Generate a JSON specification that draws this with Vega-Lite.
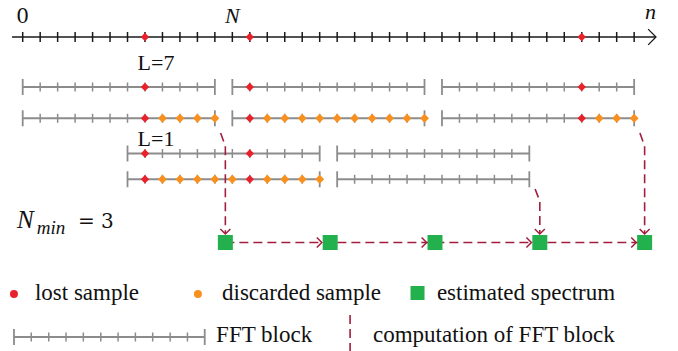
{
  "$schema": "https://vega.github.io/schema/vega-lite/v6.json",
  "width": 678,
  "height": 351,
  "autosize": {"type": "none"},
  "padding": 0,
  "background": "white",
  "config": {"view": {"stroke": null}},
  "datasets": {
    "axisLine": [{"n": -0.61, "n2": 36.25, "lane": 37}],
    "blocks": [
      {"n": 0, "n2": 11, "lane": 87}, {"n": 12, "n2": 23, "lane": 87}, {"n": 24, "n2": 35, "lane": 87},
      {"n": 0, "n2": 11, "lane": 118.3}, {"n": 12, "n2": 23, "lane": 118.3}, {"n": 24, "n2": 35, "lane": 118.3},
      {"n": 6, "n2": 17, "lane": 153.5}, {"n": 18, "n2": 29, "lane": 153.5},
      {"n": 6, "n2": 17, "lane": 179.3}, {"n": 18, "n2": 29, "lane": 179.3},
      {"n": -0.5, "n2": 10.42, "lane": 337}
    ],
    "ticksAxis": [{"lane": 37, "n": [0,1,2,3,4,5,6,7,8,9,10,11,12,13,14,15,16,17,18,19,20,21,22,23,24,25,26,27,28,29,30,31,32,33,34,35]}],
    "ticksEnd": [
      {"lane": 87, "n": [0,11,12,23,24,35]},
      {"lane": 118.3, "n": [0,11,12,23,24,35]},
      {"lane": 153.5, "n": [6,17,18,29]},
      {"lane": 179.3, "n": [6,17,18,29]},
      {"lane": 337, "n": [-0.5,10.42]}
    ],
    "ticksMinor": [
      {"lane": 87, "n": [1,2,3,4,5,6,7,8,9,10,13,14,15,16,17,18,19,20,21,22,25,26,27,28,29,30,31,32,33,34]},
      {"lane": 118.3, "n": [1,2,3,4,5,6,7,8,9,10,13,14,15,16,17,18,19,20,21,22,25,26,27,28,29,30,31,32,33,34]},
      {"lane": 153.5, "n": [7,8,9,10,11,12,13,14,15,16,19,20,21,22,23,24,25,26,27,28]},
      {"lane": 179.3, "n": [7,8,9,10,11,12,13,14,15,16,19,20,21,22,23,24,25,26,27,28]},
      {"lane": 337, "n": [0.49,1.49,2.48,3.47,4.47,5.46,6.45,7.44,8.44,9.43]}
    ],
    "lost": [
      {"lane": 37, "n": [7,13,32]},
      {"lane": 87, "n": [7,13,32]},
      {"lane": 118.3, "n": [7,13,32]},
      {"lane": 153.5, "n": [7,13]},
      {"lane": 179.3, "n": [7,13]}
    ],
    "discarded": [
      {"lane": 118.3, "n": [8,9,10,11,14,15,16,17,18,19,20,21,22,23,33,34,35]},
      {"lane": 179.3, "n": [8,9,10,11,12,14,15,16,17]}
    ],
    "spectra": [
      {"n": 11.6, "lane": 242.5}, {"n": 17.6, "lane": 242.5}, {"n": 23.6, "lane": 242.5},
      {"n": 29.6, "lane": 242.5}, {"n": 35.6, "lane": 242.5}
    ],
    "paths": [
      {"path": "h", "ord": 0, "n": 11.6, "lane": 242.5}, {"path": "h", "ord": 1, "n": 35.6, "lane": 242.5},
      {"path": "v1", "ord": 0, "n": 11.33, "lane": 133}, {"path": "v1", "ord": 1, "n": 11.6, "lane": 146}, {"path": "v1", "ord": 2, "n": 11.6, "lane": 233},
      {"path": "v2", "ord": 0, "n": 29.33, "lane": 189}, {"path": "v2", "ord": 1, "n": 29.6, "lane": 201}, {"path": "v2", "ord": 2, "n": 29.6, "lane": 233},
      {"path": "v3", "ord": 0, "n": 35.33, "lane": 133}, {"path": "v3", "ord": 1, "n": 35.6, "lane": 146}, {"path": "v3", "ord": 2, "n": 35.6, "lane": 233},
      {"path": "leg", "ord": 0, "n": 18.74, "lane": 315}, {"path": "leg", "ord": 1, "n": 18.74, "lane": 356}
    ],
    "arrowsRight": [{"n": 17.12, "lane": 242.5}, {"n": 23.12, "lane": 242.5}, {"n": 29.12, "lane": 242.5}, {"n": 35.12, "lane": 242.5}],
    "arrowsDown": [{"n": 11.6, "lane": 234}, {"n": 29.6, "lane": 234}, {"n": 35.6, "lane": 234}, {"n": 18.74, "lane": 357}],
    "axisArrow": [{"n": 36.25, "lane": 37}],
    "legendLost": [{"n": -0.5, "lane": 294}],
    "legendDiscarded": [{"n": 10.03, "lane": 294}],
    "legendSpectrum": [{"n": 22.6, "lane": 293}],
    "mathItalic": [{"label": "N", "n": 12, "lane": 22.7}, {"label": "n", "n": 35.94, "lane": 19}],
    "mathPlain": [{"label": "0", "n": 0, "lane": 22.7}, {"label": "=", "n": 3.65, "lane": 228}, {"label": "3", "n": 4.85, "lane": 228}],
    "labelsL": [{"label": "L=7", "n": 7.63, "lane": 70}, {"label": "L=1", "n": 7.63, "lane": 145.5}],
    "nminN": [{"label": "N", "n": -0.33, "lane": 228}],
    "nminSub": [{"label": "min", "n": 0.8, "lane": 234}],
    "legendText": [
      {"label": "lost sample", "n": 0.7, "lane": 300},
      {"label": "discarded sample", "n": 11.41, "lane": 300},
      {"label": "estimated spectrum", "n": 23.71, "lane": 300},
      {"label": "FFT block", "n": 11.07, "lane": 342},
      {"label": "computation of FFT block", "n": 20.05, "lane": 342}
    ]
  },
  "encoding": {
    "x": {"field": "n", "type": "quantitative", "scale": {"domain": [-1.2994, 37.51], "nice": false, "zero": false}, "axis": null},
    "y": {"field": "lane", "type": "quantitative", "scale": {"domain": [0, 351], "reverse": true, "nice": false, "zero": false}, "axis": null}
  },
  "layer": [
    {"data": {"name": "blocks"}, "mark": {"type": "rule", "color": "#8c8c8c", "strokeWidth": 2}, "encoding": {"x2": {"field": "n2"}}},
    {"data": {"name": "axisLine"}, "mark": {"type": "rule", "color": "#1a1a1a", "strokeWidth": 1.5}, "encoding": {"x2": {"field": "n2"}}},
    {"data": {"name": "ticksAxis"}, "transform": [{"flatten": ["n"]}], "mark": {"type": "tick", "orient": "vertical", "size": 10, "thickness": 1.5, "color": "#1a1a1a", "opacity": 1}},
    {"data": {"name": "ticksEnd"}, "transform": [{"flatten": ["n"]}], "mark": {"type": "tick", "orient": "vertical", "size": 16, "thickness": 1.8, "color": "#8c8c8c", "opacity": 1}},
    {"data": {"name": "ticksMinor"}, "transform": [{"flatten": ["n"]}], "mark": {"type": "tick", "orient": "vertical", "size": 9, "thickness": 1.5, "color": "#8c8c8c", "opacity": 1}},
    {"data": {"name": "paths"}, "mark": {"type": "line", "color": "#a21e3c", "strokeWidth": 1.6, "strokeDash": [9, 5]}, "encoding": {"detail": {"field": "path"}, "order": {"field": "ord", "type": "quantitative"}}},
    {"data": {"name": "lost"}, "transform": [{"flatten": ["n"]}], "mark": {"type": "point", "shape": "diamond", "size": 70, "filled": true, "color": "#e8212b", "opacity": 1}},
    {"data": {"name": "discarded"}, "transform": [{"flatten": ["n"]}], "mark": {"type": "point", "shape": "diamond", "size": 80, "filled": true, "color": "#f7901e", "opacity": 1}},
    {"data": {"name": "spectra"}, "mark": {"type": "point", "shape": "square", "size": 225, "filled": true, "color": "#22b14c", "opacity": 1}},
    {"data": {"name": "arrowsRight"}, "mark": {"type": "point", "shape": "M-1,-1L0,0L-1,1", "size": 100, "filled": false, "stroke": "#a21e3c", "strokeWidth": 1.5, "opacity": 1}},
    {"data": {"name": "arrowsDown"}, "mark": {"type": "point", "shape": "M-1,-1L0,0L1,-1", "size": 100, "filled": false, "stroke": "#a21e3c", "strokeWidth": 1.5, "opacity": 1}},
    {"data": {"name": "axisArrow"}, "mark": {"type": "point", "shape": "M-1,-1L0,0L-1,1", "size": 246, "filled": false, "stroke": "#1a1a1a", "strokeWidth": 1.3, "opacity": 1}},
    {"data": {"name": "legendLost"}, "mark": {"type": "point", "shape": "circle", "size": 64, "filled": true, "color": "#e8212b", "opacity": 1}},
    {"data": {"name": "legendDiscarded"}, "mark": {"type": "point", "shape": "circle", "size": 64, "filled": true, "color": "#f7901e", "opacity": 1}},
    {"data": {"name": "legendSpectrum"}, "mark": {"type": "point", "shape": "square", "size": 196, "filled": true, "color": "#22b14c", "opacity": 1}},
    {"data": {"name": "mathItalic"}, "mark": {"type": "text", "font": "Liberation Serif", "fontSize": 22, "fontStyle": "italic", "align": "center", "baseline": "alphabetic", "color": "#111"}, "encoding": {"text": {"field": "label"}}},
    {"data": {"name": "mathPlain"}, "mark": {"type": "text", "font": "DejaVu Serif", "fontSize": 20, "align": "center", "baseline": "alphabetic", "color": "#111"}, "encoding": {"text": {"field": "label"}}},
    {"data": {"name": "labelsL"}, "mark": {"type": "text", "font": "Liberation Serif", "fontSize": 22, "align": "center", "baseline": "alphabetic", "color": "#111"}, "encoding": {"text": {"field": "label"}}},
    {"data": {"name": "nminN"}, "mark": {"type": "text", "font": "Liberation Serif", "fontSize": 25, "fontStyle": "italic", "align": "left", "baseline": "alphabetic", "color": "#111"}, "encoding": {"text": {"field": "label"}}},
    {"data": {"name": "nminSub"}, "mark": {"type": "text", "font": "Liberation Serif", "fontSize": 19, "fontStyle": "italic", "align": "left", "baseline": "alphabetic", "color": "#111"}, "encoding": {"text": {"field": "label"}}},
    {"data": {"name": "legendText"}, "mark": {"type": "text", "font": "Liberation Serif", "fontSize": 23, "align": "left", "baseline": "alphabetic", "color": "#111"}, "encoding": {"text": {"field": "label"}}}
  ]
}
